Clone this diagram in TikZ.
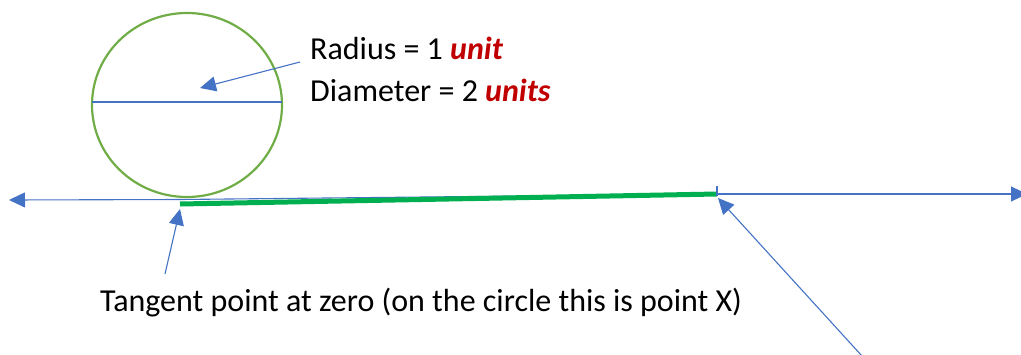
\documentclass[tikz,border=0pt]{standalone}
\usepackage{fontspec}
\setmainfont{Carlito}
\usetikzlibrary{arrows.meta}
\definecolor{cgreen}{HTML}{70AD47}
\definecolor{lblue}{HTML}{4472C4}
\definecolor{tgreen}{HTML}{00B050}
\definecolor{dred}{HTML}{C00000}
\tikzset{
  bl/.style={draw=lblue, line width=1.1pt},
  arr/.style={bl, -{Triangle[length=16pt,width=15pt]}},
  lbl/.style={anchor=base west, inner sep=0pt, font=\fontsize{32}{38}\selectfont}
}
\newcommand{\rd}[1]{\textcolor{dred}{\textbf{\textit{#1}}}}
\begin{document}
\begin{tikzpicture}[x=1pt,y=-1pt]
\useasboundingbox (0,0) rectangle (1021,354);
% circle
\draw[cgreen, line width=2.2pt] (187,105) ellipse [x radius=95, y radius=92];
\coordinate (dl) at (92,102);
\coordinate (dr) at (282,102);
\draw[bl] (dl) -- (dr);
% axis
\coordinate (ax0) at (180,199.5);
\coordinate (axL) at (9,200);
\coordinate (axR) at (1027,194);
\coordinate (g0) at (180,204);
\coordinate (g1) at (717,194);
\draw[arr] (g1) -- (axR);
\draw[bl] (g1) -- (ax0);
\draw[arr] (ax0) -- (axL);
\draw[tgreen, line width=5pt] (g0) -- (g1);
\coordinate (tk0) at (717,186);
\coordinate (tk1) at (717,196);
\draw[bl] (tk0) -- (tk1);
% labels
\node[lbl] (rad) at (310,59) {Radius = 1 \rd{unit}};
\node[lbl] (dia) at (310,101) {Diameter = 2 \rd{units}};
\node[lbl] (tan) at (100,311) {Tangent point at zero (on the circle this is point X)};
% arrows
\coordinate (a1s) at (300,62);
\coordinate (a1e) at (200,88);
\draw[arr] (a1s) -- (a1e);
\coordinate (a2s) at (165,274);
\coordinate (a2e) at (180,209);
\draw[arr] (a2s) -- (a2e);
\coordinate (a3s) at (862,356);
\coordinate (a3e) at (718,198);
\draw[arr] (a3s) -- (a3e);
\end{tikzpicture}
\end{document}
